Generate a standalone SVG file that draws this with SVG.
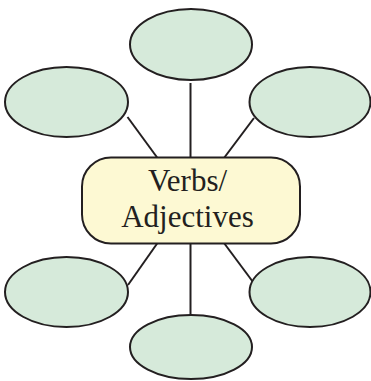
<svg xmlns="http://www.w3.org/2000/svg" width="371" height="381" viewBox="0 0 371 381">
<style>
.oval{fill:#d6eada;stroke:#231f20;stroke-width:2}
.box{fill:#fdf9d3;stroke:#231f20;stroke-width:2}
.conn line{stroke:#231f20;stroke-width:2}
.lbl{font-family:"Liberation Serif","Times New Roman",serif;font-size:31px;fill:#231f20;text-anchor:middle}
</style>
<rect width="371" height="381" fill="#ffffff"/>
<g id="connectors" class="conn">
<line x1="190.5" y1="83" x2="190.5" y2="158"/>
<line x1="127.5" y1="117" x2="157.5" y2="158"/>
<line x1="254" y1="118" x2="224" y2="158"/>
<line x1="157.5" y1="243" x2="128" y2="285"/>
<line x1="224" y1="243" x2="253" y2="282"/>
<line x1="190.5" y1="243" x2="190.5" y2="315"/>
</g>
<g id="center"><rect class="box" x="82" y="157.5" width="218" height="86" rx="29"/>
<text class="lbl" x="187.5" y="190.5">Verbs/</text>
<text class="lbl" x="187.5" y="226.5">Adjectives</text></g>
<g id="top"><ellipse class="oval" cx="191" cy="44.5" rx="61" ry="35.5"/></g>
<g id="upper-left"><ellipse class="oval" cx="66.5" cy="102" rx="61.5" ry="35"/></g>
<g id="upper-right"><ellipse class="oval" cx="310" cy="102" rx="60.5" ry="35"/></g>
<g id="lower-left"><ellipse class="oval" cx="66.5" cy="292" rx="61.5" ry="35"/></g>
<g id="lower-right"><ellipse class="oval" cx="310" cy="292" rx="60.5" ry="35"/></g>
<g id="bottom"><ellipse class="oval" cx="191" cy="347" rx="61" ry="32"/></g>
</svg>
